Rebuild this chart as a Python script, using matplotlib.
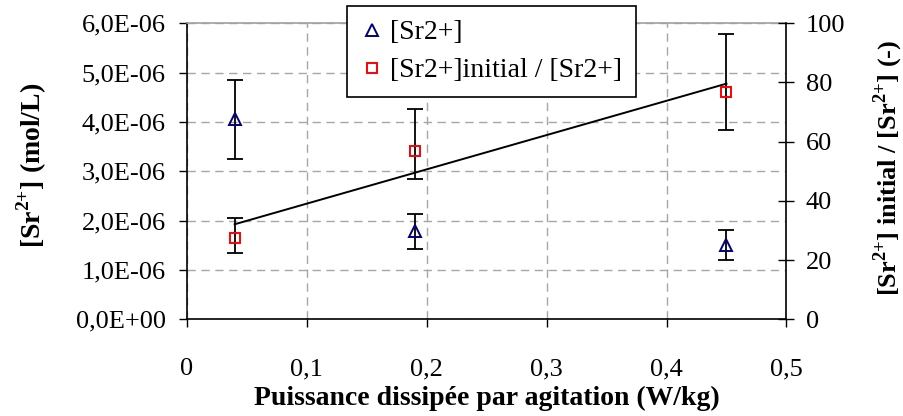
import matplotlib
matplotlib.use("Agg")
import matplotlib.pyplot as plt
import numpy as np
from matplotlib.ticker import FuncFormatter, MultipleLocator

plt.rcParams["font.family"] = ["Liberation Serif", "DejaVu Serif"]
plt.rcParams["mathtext.fontset"] = "custom"
plt.rcParams["mathtext.rm"] = "Liberation Serif"
plt.rcParams["mathtext.bf"] = "Liberation Serif:bold"

# data
puissance = [0.04, 0.19, 0.45]
sr_conc = [4.05e-06, 1.78e-06, 1.50e-06]
sr_conc_err = [0.81e-06, 0.35e-06, 0.30e-06]
ratio = [27.4, 56.9, 76.9]
ratio_err_low = [4.9, 9.6, 12.9]
ratio_err_high = [6.7, 14.1, 19.4]

fig = plt.figure(figsize=(9.04, 4.16), dpi=100)
ax = fig.add_axes([0.2065, 0.2325, 0.6635, 0.7115])
ax2 = ax.twinx()

# left axis: [Sr2+]
ax.errorbar(puissance, sr_conc, yerr=sr_conc_err, fmt="none", ecolor="black",
            elinewidth=1.3, capsize=5.5, capthick=1.3, zorder=2)
h1, = ax.plot(puissance, sr_conc, linestyle="none", marker="^", markersize=8,
              markerfacecolor="none", markeredgecolor="#000080", markeredgewidth=1.4,
              label="[Sr2+]", zorder=3)

# right axis: ratio + linear trend
ax2.errorbar(puissance, ratio, yerr=[ratio_err_low, ratio_err_high], fmt="none",
             ecolor="black", elinewidth=1.3, capsize=5.5, capthick=1.3, zorder=2)
h2, = ax2.plot(puissance, ratio, linestyle="none", marker="s", markersize=7,
               markerfacecolor="none", markeredgecolor="red", markeredgewidth=1.4,
               label="[Sr2+]initial / [Sr2+]", zorder=3)
coef = np.polyfit(puissance, ratio, 1)
xs = np.array([puissance[0], puissance[-1]])
ax2.plot(xs, np.polyval(coef, xs), color="black", linewidth=1.4, zorder=2)

ax.set_xlim(0, 0.5)
ax.set_ylim(0, 6e-06)
ax2.set_ylim(0, 100)
ax.xaxis.set_major_locator(MultipleLocator(0.1))
ax.yaxis.set_major_locator(MultipleLocator(1e-06))
ax2.yaxis.set_major_locator(MultipleLocator(20))

ax.yaxis.set_major_formatter(FuncFormatter(lambda v, p: f"{v:.1E}".replace(".", ",")))
ax.xaxis.set_major_formatter(FuncFormatter(lambda v, p: "0" if abs(v) < 1e-9 else f"{v:.1f}".replace(".", ",")))

ax.grid(True, color="#a6a6a6", linestyle=(0, (6, 4)), linewidth=1)
ax.set_axisbelow(True)

for a in (ax, ax2):
    for s in a.spines.values():
        s.set_linewidth(1.2)
ax.spines["top"].set_color("#a0a0a0")
ax2.spines["top"].set_visible(False)
ax.spines["right"].set_visible(False)
ax2.spines["left"].set_visible(False)
ax2.spines["bottom"].set_visible(False)

ax.tick_params(axis="x", direction="out", length=6, width=1, labelsize=19, pad=22)
ax.tick_params(axis="y", direction="out", length=6, width=1, labelsize=19, pad=9)
ax2.tick_params(axis="y", direction="inout", length=12, width=1, labelsize=19, pad=8)

sup = r"$^{\mathbf{2{+}}}$"
ax.set_xlabel("Puissance dissipée par agitation (W/kg)", fontsize=20, fontweight="bold", va="center")
ax.xaxis.set_label_coords(0.5, -0.266)
ax.set_ylabel("[Sr" + sup + "] (mol/L)", fontsize=20, fontweight="bold", va="center")
ax.yaxis.set_label_coords(-0.258, 0.52)
ax2.set_ylabel("[Sr" + sup + "] initial / [Sr" + sup + "] (-)", fontsize=19,
               fontweight="bold", va="center")
ax2.yaxis.set_label_coords(1.17, 0.51)

leg = fig.legend(handles=[h1, h2], loc="upper left", bbox_to_anchor=(0.3835, 0.9856),
                 fontsize=20, frameon=True, fancybox=False, framealpha=1,
                 edgecolor="black", handlelength=0.8, handletextpad=0.25,
                 borderpad=0.5, labelspacing=0.45, borderaxespad=0)
leg.get_frame().set_linewidth(1.2)

fig.savefig("out.png", dpi=100)
